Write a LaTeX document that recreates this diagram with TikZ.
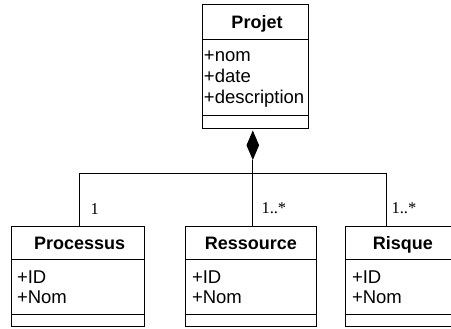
\documentclass[tikz,border=0pt]{standalone}
\usepackage{fontspec}
\setmainfont{Liberation Sans}
\newfontfamily\multfont{Liberation Serif}
\usetikzlibrary{shapes.geometric}
\begin{document}
\begin{tikzpicture}[x=1pt,y=-1pt,line width=1pt,
  classbox/.style={draw,rectangle,inner sep=0pt,minimum width=#1},
  ctitle/.style={anchor=base,inner sep=0pt,font=\fontsize{18}{21}\selectfont\bfseries},
  cattr/.style={anchor=base west,inner sep=0pt,font=\fontsize{18.5}{21}\selectfont},
  mult/.style={anchor=base west,inner sep=0pt,font=\fontsize{16.5}{18}\selectfont\multfont},
  comp/.style={diamond,fill=black,draw=none,inner sep=0pt,outer sep=0pt,minimum width=12.6pt,minimum height=29.5pt,aspect=0.43}]
\useasboundingbox (0,0) rectangle (451,329);
% Projet
\node[classbox=105.8pt,minimum height=123.3pt] (proj) at (255.4,66.65) {};
\draw (202.5,40) -- (308.3,40);
\draw (202.5,116) -- (308.3,116);
\node[ctitle] (projt) at (257,28.3) {Projet};
\node[cattr] (pa1) at (203.5,62) {+nom};
\node[cattr] (pa2) at (203.5,83) {+date};
\node[cattr] (pa3) at (203.5,103.5) {+description};
% Processus
\node[classbox=132.5pt,minimum height=100.3pt] (proc) at (77.75,276.85) {};
\draw (11.5,260) -- (144,260);
\draw (11.5,315) -- (144,315);
\node[ctitle] (proct) at (79.7,250) {Processus};
\node[cattr] (pc1) at (16.5,284) {+ID};
\node[cattr] (pc2) at (16.5,304) {+Nom};
% Ressource
\node[classbox=131pt,minimum height=100.3pt] (res) at (251.2,276.85) {};
\draw (185.7,260) -- (316.7,260);
\draw (185.7,315) -- (316.7,315);
\node[ctitle] (rest) at (250.8,250) {Ressource};
\node[cattr] (rs1) at (191.5,284) {+ID};
\node[cattr] (rs2) at (191.5,304) {+Nom};
% Risque
\node[classbox=131pt,minimum height=100.3pt] (ris) at (411.2,276.85) {};
\draw (345.7,260) -- (476.7,260);
\draw (345.7,315) -- (476.7,315);
\node[ctitle] (rist) at (402.8,250) {Risque};
\node[cattr] (ri1) at (351.5,284) {+ID};
\node[cattr] (ri2) at (351.5,304) {+Nom};
% composition
\node[comp,anchor=north] (dia) at (252.8,130.5) {};
\coordinate (bar) at (252.8,173.3);
\draw (dia.south) -- (bar);
\draw (bar) -| ([xshift=1.25pt]proc.north);
\draw (bar) -- ([xshift=1.6pt]res.north);
\draw (bar) -| ([xshift=-24.5pt]ris.north);
% multiplicities
\node[mult] (m1) at (90,215) {1};
\node[mult] (m2) at (261,213.5) {1..*};
\node[mult] (m3) at (391,213.5) {1..*};
\end{tikzpicture}
\end{document}
